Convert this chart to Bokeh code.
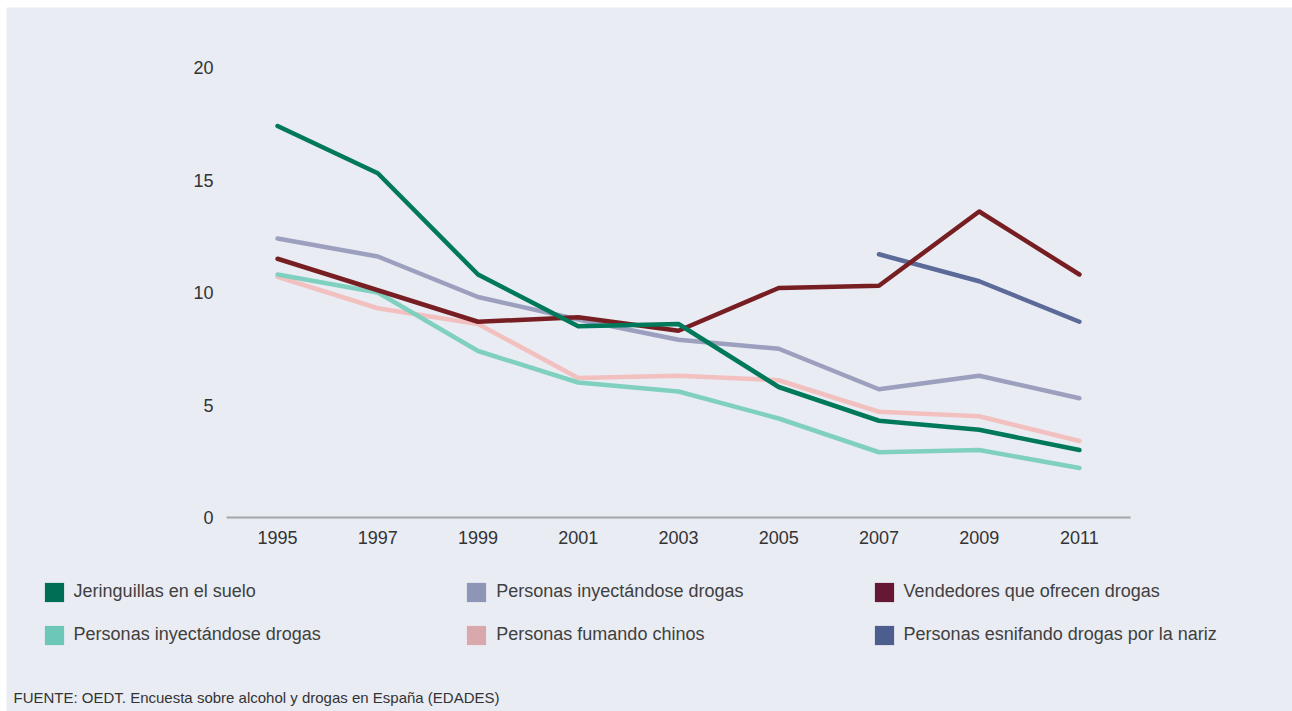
from bokeh.plotting import figure
from bokeh.models import Legend, LegendItem, Label, FixedTicker, Range1d
from bokeh.embed import file_html
from bokeh.resources import INLINE

years = [1995, 1997, 1999, 2001, 2003, 2005, 2007, 2009, 2011]
jeringuillas = [17.4, 15.3, 10.8, 8.5, 8.6, 5.8, 4.3, 3.9, 3.0]
inyectandose_1 = [12.4, 11.6, 9.8, 8.8, 7.9, 7.5, 5.7, 6.3, 5.3]
vendedores = [11.5, 10.1, 8.7, 8.9, 8.3, 10.2, 10.3, 13.6, 10.8]
inyectandose_2 = [10.8, 10.0, 7.4, 6.0, 5.6, 4.4, 2.9, 3.0, 2.2]
fumando = [10.7, 9.3, 8.6, 6.2, 6.3, 6.1, 4.7, 4.5, 3.4]
years_esnifando = [2007, 2009, 2011]
esnifando = [11.7, 10.5, 8.7]

labels = ["Jeringuillas en el suelo", "Personas inyectándose drogas", "Vendedores que ofrecen drogas",
          "Personas inyectándose drogas", "Personas fumando chinos", "Personas esnifando drogas por la nariz"]
line_colors = ["#00785A", "#9C9FBE", "#771E23", "#80D0BF", "#F3C0C0", "#5B6A98"]
swatch_colors = ["#006E55", "#8E96B8", "#651733", "#6CC7B8", "#D9A8AD", "#4C5E8E"]
y_ticks = [0, 5, 10, 15, 20]
source_text = "FUENTE: OEDT. Encuesta sobre alcohol y drogas en España (EDADES)"

BG = "#E9ECF3"
FONT = "Liberation Sans"
NAN = float("nan")

X0, X1 = 1993.98, 2012.02

p = figure(width=1286, height=704, margin=(7, 0, 0, 6),
           output_backend="svg", toolbar_location=None,
           x_range=Range1d(1989.591, 2015.252), y_range=Range1d(-8.622, 22.667),
           min_border_left=0, min_border_right=0, min_border_top=0, min_border_bottom=0)
p.background_fill_color = BG
p.border_fill_color = BG
p.outline_line_color = None
p.grid.visible = False

# lines (draw order)
series = [
    (years, fumando, line_colors[4]),
    (years, inyectandose_2, line_colors[3]),
    (years, inyectandose_1, line_colors[1]),
    (years_esnifando, esnifando, line_colors[5]),
    (years, vendedores, line_colors[2]),
    (years, jeringuillas, line_colors[0]),
]
for xs, ys, c in series:
    p.line(xs, ys, line_color=c, line_width=4.5, line_cap="round", line_join="round")

# axes
xa = p.xaxis[0]
xa.fixed_location = 0
xa.bounds = (X0, X1)
xa.ticker = FixedTicker(ticks=years)
xa.axis_line_color = "#A3A5AA"
xa.axis_line_width = 2
xa.major_tick_line_color = None
xa.minor_tick_line_color = None
xa.major_tick_out = 0
xa.major_tick_in = 0
xa.major_label_standoff = 13
xa.major_label_text_font = FONT
xa.major_label_text_font_size = "18px"
xa.major_label_text_color = "#333333"

ya = p.yaxis[0]
ya.fixed_location = X0
ya.bounds = (0, 20)
ya.ticker = FixedTicker(ticks=y_ticks)
ya.axis_line_color = None
ya.major_tick_line_color = None
ya.minor_tick_line_color = None
ya.major_tick_out = 0
ya.major_tick_in = 0
ya.major_label_standoff = 13
ya.major_label_text_font = FONT
ya.major_label_text_font_size = "18px"
ya.major_label_text_color = "#333333"

# legend swatches (quads with no drawable data; only their legend glyph shows)
swatch_renderers = []
for c in swatch_colors:
    r = p.quad(left=[NAN], right=[NAN], top=[NAN], bottom=[NAN], fill_color=c, line_color=None)
    swatch_renderers.append(r)

col_x = [35.6, 458.3, 865.6]
for i in range(3):
    items = [LegendItem(label=labels[i], renderers=[swatch_renderers[i]]),
             LegendItem(label=labels[i + 3], renderers=[swatch_renderers[i + 3]])]
    lg = Legend(items=items, location=(col_x[i], 64.5), orientation="vertical",
                glyph_width=24, glyph_height=24, label_height=24, label_standoff=8,
                spacing=19, padding=0, margin=0,
                background_fill_alpha=0, border_line_color=None,
                label_text_font=FONT, label_text_font_size="18px", label_text_color="#404040")
    p.add_layout(lg, "center")

p.add_layout(Label(x=7, y=14, x_units="screen", y_units="screen", text=source_text,
                   text_font=FONT, text_font_size="15px", text_color="#333333",
                   text_baseline="middle"))

open("out.html", "w").write(file_html(p, INLINE))
